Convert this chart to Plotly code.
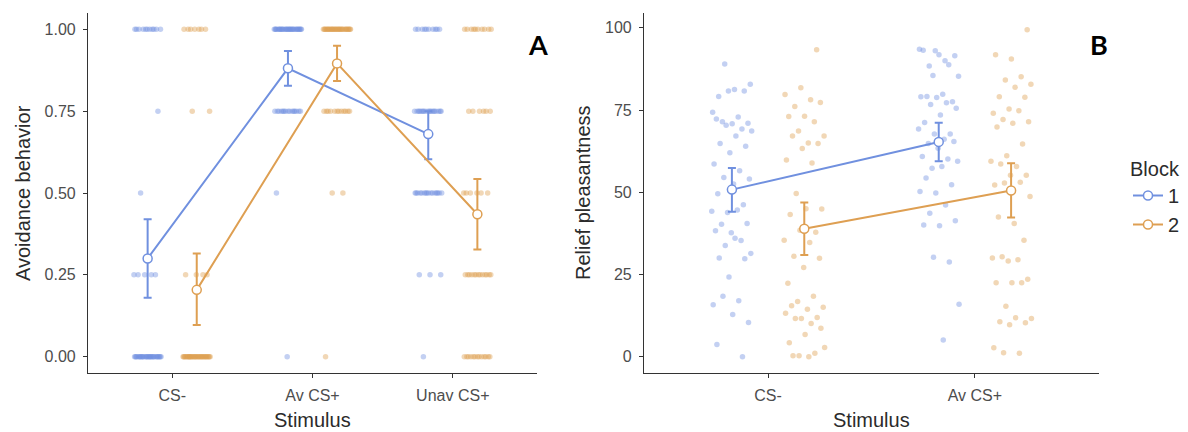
import numpy as np
import plotly.graph_objects as go

# ---------------- data ----------------
stim_a = ["CS-", "Av CS+", "Unav CS+"]
stim_b = ["CS-", "Av CS+"]
blocks = ["1", "2"]

# Panel A: individual responses (counts per response level)
levels_a = [0.0, 0.25, 0.5, 0.75, 1.0]
counts_a_b1_csm = [30, 5, 1, 1, 11]
counts_a_b1_av = [1, 0, 1, 15, 31]
counts_a_b1_unav = [1, 3, 16, 18, 10]
counts_a_b2_csm = [35, 4, 0, 2, 7]
counts_a_b2_av = [1, 0, 2, 12, 33]
counts_a_b2_unav = [13, 13, 6, 6, 10]

# Panel A: means and 95% CI
mean_a_b1 = [0.30, 0.881, 0.68]
lo_a_b1 = [0.18, 0.828, 0.603]
hi_a_b1 = [0.42, 0.934, 0.75]
mean_a_b2 = [0.204, 0.896, 0.435]
lo_a_b2 = [0.097, 0.842, 0.327]
hi_a_b2 = [0.315, 0.95, 0.543]

# Panel B: individual ratings
b_b1_csm = [89.0, 82.8, 81.2, 79.1, 80.8, 80.8, 74.3, 72.9, 71.4, 71.0, 70.8, 72.3,
            69.2, 70.4, 68.6, 67.1, 64.8, 64.0, 62.0, 58.6, 56.5, 54.5, 54.0, 52.5,
            49.5, 46.2, 43.8, 44.2, 44.6, 40.3, 40.5, 37.7, 38.3, 35.3, 33.8, 31.4,
            36.0, 30.0, 29.8, 24.2, 15.8, 17.0, 18.4, 10.4, 12.8, 3.7, 0.0]
b_b2_csm = [93.3, 81.8, 79.7, 78.1, 76.1, 77.3, 73.1, 73.0, 71.4, 68.6, 67.1, 65.0,
            67.1, 64.8, 63.3, 59.8, 58.9, 49.6, 44.9, 45.0, 43.2, 37.8, 38.4, 35.4,
            34.7, 30.5, 29.9, 27.1, 22.3, 18.4, 16.8, 15.0, 14.4, 15.5, 11.9, 11.6,
            13.2, 10.1, 11.6, 8.6, 6.7, 4.2, 1.0, 0.3, 2.8, 0.0, 0.3]
b_b1_av = [93.0, 93.5, 90.0, 88.4, 91.5, 91.8, 93.2, 88.8, 85.5, 85.3, 79.8, 79.1,
           77.5, 78.8, 79.0, 77.2, 76.7, 75.5, 73.5, 71.2, 67.7, 67.7, 69.2, 66.1,
           64.8, 65.4, 63.4, 60.9, 60.1, 57.3, 59.4, 57.8, 54.3, 52.3, 49.8, 50.2,
           46.1, 43.6, 41.3, 39.8, 40.0, 28.8, 30.2, 15.9, 5.1]
b_b2_av = [99.4, 90.5, 91.8, 85.1, 84.1, 82.8, 81.9, 79.0, 78.9, 75.3, 74.0, 74.8,
           72.1, 71.4, 71.0, 69.8, 64.7, 61.1, 59.4, 57.8, 58.6, 55.2, 55.2, 52.2,
           53.0, 52.8, 48.7, 40.5, 42.5, 35.4, 29.1, 30.0, 29.5, 30.4, 23.5, 22.5,
           22.5, 22.5, 15.3, 11.6, 11.8, 10.6, 10.3, 9.7, 2.7, 1.0, 1.2]

# Panel B: means and 95% CI
mean_b_b1 = [50.8, 65.3]
lo_b_b1 = [44.1, 59.4]
hi_b_b1 = [57.4, 71.1]
mean_b_b2 = [38.9, 50.5]
lo_b_b2 = [30.9, 42.3]
hi_b_b2 = [46.9, 58.8]

# ---------------- style ----------------
BLUE = "#7090DF"
ORANGE = "#DE9F52"
FONT = "Liberation Sans"
TITLE_COLOR = "#2b2b2b"
DODGE = 0.175
JIT = 0.1
W, H = 1188, 432


def jitter(n, seed):
    k = np.arange(n)
    return JIT * (2 * (((k + seed) * 0.6180339887) % 1.0) - 1)


fig = go.Figure()


def add_points(xcat, ys, color, xa, ya, seed):
    ys = np.asarray(ys, dtype=float)
    xs = xcat + jitter(len(ys), seed)
    fig.add_trace(go.Scatter(
        x=xs, y=ys, mode="markers", xaxis=xa, yaxis=ya, showlegend=False,
        hoverinfo="skip",
        marker=dict(size=5.5, color=color, opacity=0.42, line=dict(width=0)),
    ))


# Panel A points
groups_a = [
    (counts_a_b1_csm, counts_a_b2_csm),
    (counts_a_b1_av, counts_a_b2_av),
    (counts_a_b1_unav, counts_a_b2_unav),
]
for i, (c1, c2) in enumerate(groups_a):
    add_points(i + 1 - DODGE, np.repeat(levels_a, c1), BLUE, "x", "y", 3 * i + 1)
    add_points(i + 1 + DODGE, np.repeat(levels_a, c2), ORANGE, "x", "y", 3 * i + 2)

# Panel B points
groups_b = [(b_b1_csm, b_b2_csm), (b_b1_av, b_b2_av)]
for i, (v1, v2) in enumerate(groups_b):
    add_points(i + 1 - DODGE, v1, BLUE, "x2", "y2", 5 * i + 7)
    add_points(i + 1 + DODGE, v2, ORANGE, "x2", "y2", 5 * i + 11)


def add_means(n, means, lo, hi, color, xa, ya, shift, name, legend):
    means = np.asarray(means)
    x = np.arange(1, n + 1) + shift
    fig.add_trace(go.Scatter(
        x=x, y=means, mode="lines+markers", xaxis=xa, yaxis=ya,
        name=name, showlegend=legend, legendgroup=name,
        line=dict(color=color, width=2),
        marker=dict(size=9, color="white", line=dict(color=color, width=1.5)),
        error_y=dict(type="data", symmetric=False,
                     array=np.asarray(hi) - means,
                     arrayminus=means - np.asarray(lo),
                     color=color, thickness=2, width=4),
    ))


add_means(3, mean_a_b1, lo_a_b1, hi_a_b1, BLUE, "x", "y", -DODGE, blocks[0], False)
add_means(3, mean_a_b2, lo_a_b2, hi_a_b2, ORANGE, "x", "y", DODGE, blocks[1], False)
add_means(2, mean_b_b1, lo_b_b1, hi_b_b1, BLUE, "x2", "y2", -DODGE, blocks[0], True)
add_means(2, mean_b_b2, lo_b_b2, hi_b_b2, ORANGE, "x2", "y2", DODGE, blocks[1], True)

# ---------------- layout ----------------
ax_top, ax_bot = 13, 373
ydom = [(H - ax_bot) / H, (H - ax_top) / H]
xa_l, xa_r = 88, 537
xb_l, xb_r = 644, 1099

common = dict(showgrid=False, zeroline=False, showline=True, linecolor="#333333",
              linewidth=1.1, ticks="outside", ticklen=4, tickwidth=1.1,
              tickcolor="#333333", tickfont=dict(family=FONT, size=16, color="#4D4D4D"))

fig.update_layout(
    width=W, height=H, margin=dict(l=0, r=0, t=0, b=0),
    paper_bgcolor="white", plot_bgcolor="white",
    font=dict(family=FONT, color=TITLE_COLOR),
    xaxis=dict(domain=[xa_l / W, xa_r / W], range=[0.4, 3.6], tickvals=[1, 2, 3],
               ticktext=stim_a, anchor="y", ticklabelstandoff=4, **common),
    yaxis=dict(domain=ydom, range=[-0.05, 1.05], tickvals=levels_a, tickformat=".2f",
               anchor="x", ticklabelstandoff=4, **common),
    xaxis2=dict(domain=[xb_l / W, xb_r / W], range=[0.4, 2.6], tickvals=[1, 2],
                ticktext=stim_b, anchor="y2", ticklabelstandoff=4, **common),
    yaxis2=dict(domain=ydom, range=[-4.97, 104.5], tickvals=[0, 25, 50, 75, 100],
                anchor="x2", ticklabelstandoff=4, **common),
    legend=dict(title=dict(text="Block", font=dict(family=FONT, size=20, color=TITLE_COLOR)),
                font=dict(family=FONT, size=20, color=TITLE_COLOR),
                x=1128 / W, xanchor="left", y=(H - 197) / H, yanchor="middle",
                bgcolor="rgba(0,0,0,0)", itemwidth=30, tracegroupgap=0),
)

ann = []
ann.append(dict(text="Avoidance behavior", x=23 / W, y=(H - 193) / H, textangle=-90,
                font=dict(family=FONT, size=20, color=TITLE_COLOR)))
ann.append(dict(text="Relief pleasantness", x=583 / W, y=(H - 193) / H, textangle=-90,
                font=dict(family=FONT, size=20, color=TITLE_COLOR)))
ann.append(dict(text="Stimulus", x=(xa_l + xa_r) / 2 / W, y=(H - 420) / H,
                font=dict(family=FONT, size=20, color=TITLE_COLOR)))
ann.append(dict(text="Stimulus", x=(xb_l + xb_r) / 2 / W, y=(H - 420) / H,
                font=dict(family=FONT, size=20, color=TITLE_COLOR)))
ann.append(dict(text="<b>A</b>", x=538 / W, y=(H - 44) / H,
                font=dict(family="Lato", size=27, color="black")))
ann.append(dict(text="<b>B</b>", x=1099 / W, y=(H - 45) / H,
                font=dict(family="Lato", size=27, color="black")))
for a in ann:
    a.update(xref="paper", yref="paper", showarrow=False, xanchor="center", yanchor="middle")
fig.update_layout(annotations=ann)

fig.write_html("out.html")
